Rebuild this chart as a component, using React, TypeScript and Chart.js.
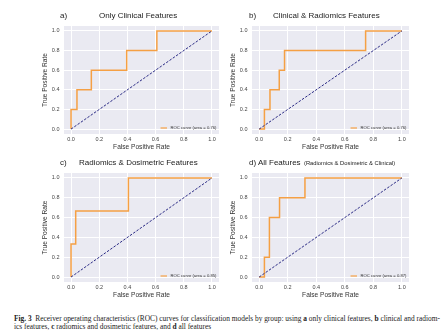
import React, { useEffect, useRef } from "react";
import { Chart, registerables } from "chart.js";

Chart.register(...registerables);

// ---- data ----
const tickValues = [0, 0.2, 0.4, 0.6, 0.8, 1.0];
const chanceX = [0, 1];
const chanceY = [0, 1];

const fprA = [0, 0, 0.042, 0.042, 0.144, 0.144, 0.395, 0.395, 0.609, 0.609, 1];
const tprA = [0, 0.2, 0.2, 0.4, 0.4, 0.6, 0.6, 0.8, 0.8, 1, 1];
const aucA = "0.76";

const fprB = [0, 0.037, 0.037, 0.076, 0.076, 0.141, 0.141, 0.178, 0.178, 0.746, 0.746, 1];
const tprB = [0, 0, 0.2, 0.2, 0.4, 0.4, 0.6, 0.6, 0.8, 0.8, 1, 1];
const aucB = "0.76";

const fprC = [0, 0, 0.033, 0.033, 0.407, 0.407, 1];
const tprC = [0, 0.333, 0.333, 0.667, 0.667, 1, 1];
const aucC = "0.85";

const fprD = [0, 0.037, 0.037, 0.072, 0.072, 0.143, 0.143, 0.321, 0.321, 1];
const tprD = [0, 0, 0.2, 0.2, 0.6, 0.6, 0.8, 0.8, 1, 1];
const aucD = "0.87";

const xTitle = "False Positive Rate";
const yTitle = "True Positive Rate";

// ---- styles ----
const SANS = '"Liberation Sans", Arial, sans-serif';
const SERIF = '"Liberation Serif", "Times New Roman", serif';
const ORANGE = "#F5A044";
const NAVY = "#2a2a85";
const BG = "#EAEAF2";

const P = 8;
const YW = 34;
const XH = 20;

const bgPlugin = {
  id: "bgArea",
  beforeDraw(chart: any) {
    const { ctx, chartArea: a } = chart;
    ctx.save();
    ctx.fillStyle = BG;
    ctx.fillRect(a.left, a.top, a.right - a.left, a.bottom - a.top);
    ctx.restore();
  },
};

const legendPlugin = {
  id: "rocLegend",
  afterDraw(chart: any) {
    const { ctx, chartArea: a } = chart;
    const ds = chart.data.datasets[0];
    const label = ds.label as string;
    ctx.save();
    ctx.font = `4.2px ${SANS}`;
    const w = ctx.measureText(label).width;
    const xr = a.right - 2.5;
    const y = a.bottom - 6;
    ctx.fillStyle = "#333";
    ctx.textAlign = "left";
    ctx.textBaseline = "middle";
    ctx.fillText(label, xr - w, y);
    ctx.strokeStyle = ds.borderColor;
    ctx.lineWidth = 1.2;
    ctx.beginPath();
    ctx.moveTo(xr - w - 10, y);
    ctx.lineTo(xr - w - 3.5, y);
    ctx.stroke();
    ctx.restore();
  },
};

type Plot = { L: number; R: number; T: number; B: number };

function RocPanel({ fpr, tpr, auc, plot }: { fpr: number[]; tpr: number[]; auc: string; plot: Plot }) {
  const ref = useRef<HTMLCanvasElement>(null);
  const left = plot.L - YW - P;
  const top = plot.T - P;
  const width = plot.R - plot.L + YW + 2 * P;
  const height = plot.B - plot.T + XH + 2 * P;

  useEffect(() => {
    const axisCommon = (isX: boolean) => ({
      type: "linear" as const,
      min: -0.05,
      max: 1.05,
      afterBuildTicks: (s: any) => {
        s.ticks = tickValues.map((v) => ({ value: v }));
      },
      afterFit: (s: any) => {
        if (isX) s.height = XH;
        else s.width = YW;
      },
      grid: { color: "#ffffff", lineWidth: 1, drawTicks: false },
      border: { display: false },
      ticks: {
        padding: isX ? 2.5 : 4.5,
        autoSkip: false,
        maxRotation: 0,
        font: { size: 5.5, family: SANS },
        color: "#444",
        callback: (v: any) => Number(v).toFixed(1),
      },
      title: {
        display: true,
        text: isX ? xTitle : yTitle,
        color: "#333",
        font: { size: 6.6, family: SANS, lineHeight: 1.2 },
        padding: isX ? { top: 0, bottom: 3 } : { top: 11, bottom: 0 },
      },
    });

    const chart = new Chart(ref.current!, {
      type: "line",
      data: {
        datasets: [
          {
            label: `ROC curve (area = ${auc})`,
            data: fpr.map((x, i) => ({ x, y: tpr[i] })),
            borderColor: ORANGE,
            borderWidth: 1.5,
            pointRadius: 0,
            tension: 0,
            fill: false,
            order: 1,
          },
          {
            label: "chance",
            data: chanceX.map((x, i) => ({ x, y: chanceY[i] })),
            borderColor: NAVY,
            borderWidth: 1,
            borderDash: [2.5, 1.5],
            pointRadius: 0,
            fill: false,
            order: 0,
          },
        ],
      },
      options: {
        responsive: false,
        animation: false,
        devicePixelRatio: 1,
        layout: { padding: P },
        plugins: { legend: { display: false }, tooltip: { enabled: false }, title: { display: false } },
        scales: { x: axisCommon(true), y: axisCommon(false) } as any,
      },
      plugins: [bgPlugin, legendPlugin],
    });
    return () => chart.destroy();
  }, []);

  return (
    <canvas
      ref={ref}
      width={width}
      height={height}
      style={{ position: "absolute", left, top, width, height }}
    />
  );
}

const titleStyle = (left: number, centerY: number, size: number): React.CSSProperties => ({
  position: "absolute",
  left,
  top: centerY - size / 2,
  fontFamily: SANS,
  fontSize: size,
  lineHeight: `${size}px`,
  color: "#222",
  whiteSpace: "nowrap",
});

export default function App() {
  return (
    <div
      style={{
        position: "fixed",
        left: 0,
        top: 0,
        width: 443,
        height: 336,
        background: "#fff",
        overflow: "hidden",
      }}
    >
      <RocPanel fpr={fprA} tpr={tprA} auc={aucA} plot={{ L: 64, R: 219, T: 26, B: 134 }} />
      <RocPanel fpr={fprB} tpr={tprB} auc={aucB} plot={{ L: 252, R: 409, T: 26, B: 134 }} />
      <RocPanel fpr={fprC} tpr={tprC} auc={aucC} plot={{ L: 64, R: 219, T: 173, B: 282 }} />
      <RocPanel fpr={fprD} tpr={tprD} auc={aucD} plot={{ L: 252, R: 409, T: 173, B: 282 }} />

      <div style={titleStyle(60, 16, 8)}>a)</div>
      <div style={titleStyle(99, 16, 8)}>Only Clinical Features</div>
      <div style={titleStyle(249, 16, 8)}>b)</div>
      <div style={titleStyle(273, 16, 8)}>Clinical &amp; Radiomics Features</div>
      <div style={titleStyle(60, 163, 8)}>c)</div>
      <div style={titleStyle(79, 163, 8)}>Radiomics &amp; Dosimetric Features</div>
      <div style={titleStyle(249, 163, 8)}>d) All Features</div>
      <div style={titleStyle(304, 163.5, 5.8)}>(Radiomics &amp; Dosimetric &amp; Clinical)</div>

      <div
        style={{
          position: "absolute",
          left: 14,
          top: 315,
          width: 424,
          fontFamily: SERIF,
          fontSize: 7.4,
          lineHeight: "7.5px",
          color: "#222",
          textAlign: "justify",
          textAlignLast: "justify" as any,
          whiteSpace: "nowrap",
        }}
      >
        <b>Fig. 3</b>&nbsp; Receiver operating characteristics (ROC) curves for classification models by group: using{" "}
        <b>a</b> only clinical features, <b>b</b> clinical and radiom-
      </div>
      <div
        style={{
          position: "absolute",
          left: 14,
          top: 322.5,
          fontFamily: SERIF,
          fontSize: 7.4,
          lineHeight: "7.5px",
          color: "#222",
          whiteSpace: "nowrap",
        }}
      >
        ics features, <b>c</b> radiomics and dosimetric features, and <b>d</b> all features
      </div>
    </div>
  );
}
